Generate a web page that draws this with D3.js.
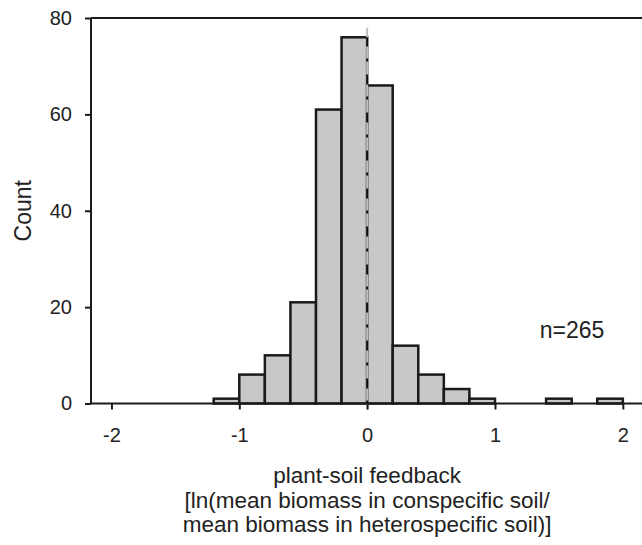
<!DOCTYPE html>
<html>
<head>
<meta charset="utf-8">
<script src="https://cdn.jsdelivr.net/npm/d3@7"></script>
<style>
  body { margin: 0; background: #fff; }
  text { font-family: "Liberation Sans", Arial, sans-serif; fill: #222; }
</style>
</head>
<body>
<div id="chart"></div>
<script>
// histogram bins (left edge) and counts, bin width 0.2
const binStarts = [-1.2, -1.0, -0.8, -0.6, -0.4, -0.2, 0.0, 0.2, 0.4, 0.6, 0.8, 1.4, 1.8];
const counts = [1, 6, 10, 21, 61, 76, 66, 12, 6, 3, 1, 1, 1];
const binWidth = 0.2;
const xTicks = [-2, -1, 0, 1, 2];
const yTicks = [0, 20, 40, 60, 80];
const titleLines = [
  'plant-soil feedback',
  '[ln(mean biomass in conspecific soil/',
  'mean biomass in heterospecific soil)]'
];

const width = 642, height = 545;

const svg = d3.select('#chart')
  .append('svg')
  .attr('width', width)
  .attr('height', height);

const x = d3.scaleLinear().domain([-2.16, 2.15]).range([91, 642]);
const y = d3.scaleLinear().domain([0, 80]).range([403.5, 18]);

const bins = binStarts.map((s, i) => ({ x0: s, x1: s + binWidth, n: counts[i] }));

// bars
svg.append('g')
  .selectAll('rect')
  .data(bins)
  .enter()
  .append('rect')
  .attr('x', d => x(d.x0))
  .attr('y', d => y(d.n))
  .attr('width', d => x(d.x1) - x(d.x0))
  .attr('height', d => y(0) - y(d.n))
  .style('fill', '#c8c8c8')
  .style('stroke', '#1a1a1a')
  .style('stroke-width', 2.5);

// zero reference lines
svg.append('line')
  .attr('x1', x(0)).attr('x2', x(0))
  .attr('y1', y(-1.3)).attr('y2', y(78))
  .style('stroke', '#bdbdbd')
  .style('stroke-width', 2);

svg.append('line')
  .attr('x1', x(0)).attr('x2', x(0))
  .attr('y1', y(0)).attr('y2', y(76))
  .style('stroke', '#111')
  .style('stroke-width', 2)
  .style('stroke-dasharray', '3,12,10,13');

// top frame line
svg.append('line')
  .attr('x1', x.range()[0]).attr('x2', x.range()[1])
  .attr('y1', y(80)).attr('y2', y(80))
  .style('stroke', '#1a1a1a')
  .style('stroke-width', 2);

// x axis
const xAxis = svg.append('g')
  .attr('transform', `translate(0,${y(0)})`)
  .call(d3.axisBottom(x).tickValues(xTicks).tickSize(6).tickPadding(18).tickFormat(d => String(d)));

// y axis
const yAxis = svg.append('g')
  .attr('transform', `translate(${x.range()[0]},0)`)
  .call(d3.axisLeft(y).tickValues(yTicks).tickSize(6).tickPadding(13));

[xAxis, yAxis].forEach(g => {
  g.select('.domain').style('stroke', '#1a1a1a').style('stroke-width', 2);
  g.selectAll('.tick line').style('stroke', '#1a1a1a').style('stroke-width', 2);
  g.selectAll('.tick text')
    .style('font-family', '"Liberation Sans", Arial, sans-serif')
    .style('font-size', '20px')
    .style('fill', '#222');
});
xAxis.select('.domain').attr('d', `M${x.range()[0]},0H${x.range()[1]}`);
yAxis.select('.domain').attr('d', `M0,${y.range()[0]}V${y.range()[1]}`);

// labels
svg.append('text')
  .text('Count')
  .attr('transform', `translate(31,${y(40)}) rotate(-90)`)
  .attr('text-anchor', 'middle')
  .style('font-size', '23px');

svg.append('g')
  .selectAll('text')
  .data(titleLines)
  .enter()
  .append('text')
  .text(d => d)
  .attr('x', x(0))
  .attr('y', (d, i) => 483 + i * 24.5)
  .attr('text-anchor', 'middle')
  .style('font-size', '22.5px');

svg.append('text')
  .text('n=265')
  .attr('x', x(1.35))
  .attr('y', y(13.5))
  .style('font-size', '23px');
</script>
</body>
</html>
